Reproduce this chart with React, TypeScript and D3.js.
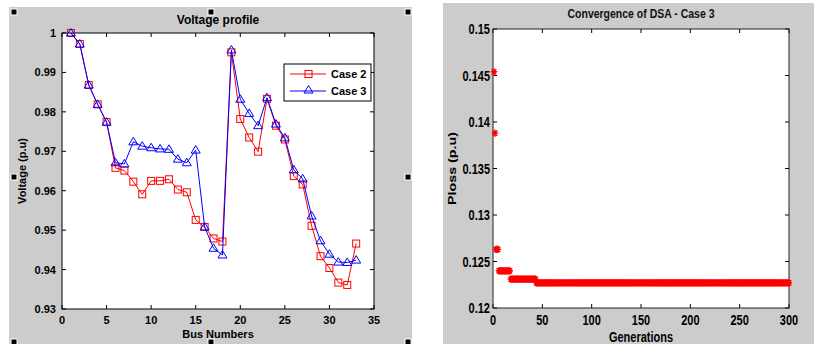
import React from 'react';
import * as d3 from 'd3';

// left chart: voltage profile
const busNumbers = d3.range(1, 34);
const voltCase2 = [
  1.0, 0.9972, 0.9868, 0.9819, 0.9774, 0.9658, 0.9651, 0.9623, 0.9591, 0.9625,
  0.9625, 0.9629, 0.9603, 0.9596, 0.9526, 0.9508, 0.9479, 0.9471, 0.9951, 0.9782,
  0.9735, 0.9699, 0.9833, 0.9765, 0.973, 0.9637, 0.9616, 0.9511, 0.9434, 0.9404,
  0.9367, 0.9361, 0.9466,
];
const voltCase3 = [
  1.0, 0.9972, 0.9868, 0.9819, 0.9774, 0.9671, 0.9668, 0.9724, 0.9713, 0.9709,
  0.9706, 0.9705, 0.968, 0.9671, 0.9703, 0.9508, 0.9454, 0.9437, 0.9957, 0.9832,
  0.9796, 0.9765, 0.9836, 0.9769, 0.9734, 0.9653, 0.963, 0.9536, 0.9473, 0.9439,
  0.9419, 0.9418, 0.9424,
];
const busTicks = [0, 5, 10, 15, 20, 25, 30, 35];
const voltTicks = [0.93, 0.94, 0.95, 0.96, 0.97, 0.98, 0.99, 1];

// right chart: convergence (best loss per generation, stored as plateaus)
const stepStart = [1, 2, 3, 6, 18, 44];
const stepLoss = [0.1454, 0.1388, 0.1263, 0.124, 0.1231, 0.1227];
const lastGen = 300;
const genTicks = [0, 50, 100, 150, 200, 250, 300];
const lossTicks = [0.12, 0.125, 0.13, 0.135, 0.14, 0.145, 0.15];

const FONT = 'Liberation Sans, Arial, sans-serif';
const GRAY = '#cccccc';

const lossData: { g: number; v: number }[] = [];
stepStart.forEach((s, i) => {
  const end = i < stepStart.length - 1 ? stepStart[i + 1] - 1 : lastGen;
  for (let g = s; g <= end; g++) lossData.push({ g, v: stepLoss[i] });
});

function Handle({ x, y }: { x: number; y: number }) {
  return <rect x={x} y={y} width={6} height={6} fill="#000" stroke="#fff" strokeWidth={1} />;
}

function VoltagePanel() {
  const L = 62, R = 374, T = 33, B = 309;
  const x = d3.scaleLinear().domain([0, 35]).range([L, R]);
  const y = d3.scaleLinear().domain([0.93, 1]).range([B, T]);
  const line = d3.line<number>().x((_, i) => x(busNumbers[i])).y(d => y(d));
  const tri = (cx: number, cy: number) =>
    `M${cx},${cy - 4.5}L${cx + 4.5},${cy + 3}L${cx - 4.5},${cy + 3}Z`;

  return (
    <g>
      <rect x={9} y={7} width={403} height={337} fill={GRAY} />
      <rect x={L} y={T} width={R - L} height={B - T} fill="#fff" />
      {busTicks.map(t => (
        <g key={'bx' + t}>
          <line x1={x(t)} x2={x(t)} y1={B} y2={B - 4} stroke="#000" />
          <line x1={x(t)} x2={x(t)} y1={T} y2={T + 4} stroke="#000" />
          <text x={x(t)} y={324} textAnchor="middle" fontSize={11} fontWeight="bold" fontFamily={FONT}>
            {t}
          </text>
        </g>
      ))}
      {voltTicks.map(t => (
        <g key={'vy' + t}>
          <line x1={L} x2={L + 4} y1={y(t)} y2={y(t)} stroke="#000" />
          <line x1={R} x2={R - 4} y1={y(t)} y2={y(t)} stroke="#000" />
          <text x={56} y={y(t) + 4} textAnchor="end" fontSize={11} fontWeight="bold" fontFamily={FONT}>
            {String(+t.toFixed(2))}
          </text>
        </g>
      ))}
      <rect x={L} y={T} width={R - L} height={B - T} fill="none" stroke="#000" />

      <path d={line(voltCase2) || ''} fill="none" stroke="#ff0000" strokeWidth={1} />
      {voltCase2.map((v, i) => (
        <rect key={'s' + i} x={x(busNumbers[i]) - 3.5} y={y(v) - 3.5} width={7} height={7}
          fill="none" stroke="#ff0000" strokeWidth={1} />
      ))}
      <path d={line(voltCase3) || ''} fill="none" stroke="#0000ff" strokeWidth={1} />
      {voltCase3.map((v, i) => (
        <path key={'t' + i} d={tri(x(busNumbers[i]), y(v))} fill="none" stroke="#0000ff" strokeWidth={1} />
      ))}

      <g>
        <rect x={284} y={64} width={87} height={37} fill="#fff" stroke="#000" />
        <line x1={290} x2={326} y1={74} y2={74} stroke="#ff0000" />
        <rect x={305} y={70.5} width={7} height={7} fill="none" stroke="#ff0000" />
        <text x={331} y={78} fontSize={11} fontWeight="bold" fontFamily={FONT}>Case 2</text>
        <line x1={290} x2={326} y1={91} y2={91} stroke="#0000ff" />
        <path d={tri(308.5, 90)} fill="none" stroke="#0000ff" />
        <text x={331} y={95} fontSize={11} fontWeight="bold" fontFamily={FONT}>Case 3</text>
      </g>

      <text x={(L + R) / 2} y={24} textAnchor="middle" fontSize={12} fontWeight="bold" fontFamily={FONT}>
        Voltage profile
      </text>
      <text x={(L + R) / 2} y={338} textAnchor="middle" fontSize={11} fontWeight="bold" fontFamily={FONT}>
        Bus Numbers
      </text>
      <text transform={`translate(26,${(T + B) / 2}) rotate(-90)`} textAnchor="middle" fontSize={11}
        fontWeight="bold" fontFamily={FONT}>
        Voltage (p.u)
      </text>

      <Handle x={11} y={9} />
      <Handle x={208} y={9} />
      <Handle x={405} y={9} />
      <Handle x={11} y={174} />
      <Handle x={405} y={174} />
      <Handle x={11} y={339} />
      <Handle x={208} y={339} />
      <Handle x={405} y={339} />
    </g>
  );
}

function ConvergencePanel() {
  const L = 493, R = 789, T = 29, B = 308;
  const x = d3.scaleLinear().domain([0, 300]).range([L, R]);
  const y = d3.scaleLinear().domain([0.12, 0.15]).range([B, T]);
  const star = (cx: number, cy: number) =>
    `M${cx - 3.2},${cy}H${cx + 3.2}M${cx},${cy - 3.6}V${cy + 3.6}` +
    `M${cx - 2.3},${cy - 2.7}L${cx + 2.3},${cy + 2.7}M${cx - 2.3},${cy + 2.7}L${cx + 2.3},${cy - 2.7}`;
  const stretch = 'scale(1,1.3)';

  return (
    <g>
      <rect x={443} y={3} width={371} height={341} fill={GRAY} />
      <rect x={L} y={T} width={R - L} height={B - T} fill="#fff" />
      {genTicks.map(t => (
        <g key={'gx' + t}>
          <line x1={x(t)} x2={x(t)} y1={B} y2={B - 4} stroke="#000" />
          <line x1={x(t)} x2={x(t)} y1={T} y2={T + 4} stroke="#000" />
          <text transform={`translate(${x(t)},325) ${stretch}`} textAnchor="middle" fontSize={11}
            fontWeight="bold" fontFamily={FONT}>
            {t}
          </text>
        </g>
      ))}
      {lossTicks.map(t => (
        <g key={'ly' + t}>
          <line x1={L} x2={L + 4} y1={y(t)} y2={y(t)} stroke="#000" />
          <line x1={R} x2={R - 4} y1={y(t)} y2={y(t)} stroke="#000" />
          <text transform={`translate(490,${y(t) + 5}) ${stretch}`} textAnchor="end" fontSize={11}
            fontWeight="bold" fontFamily={FONT}>
            {String(+t.toFixed(3))}
          </text>
        </g>
      ))}
      <rect x={L} y={T} width={R - L} height={B - T} fill="none" stroke="#222" />

      {lossData.map(d => (
        <path key={'p' + d.g} d={star(x(d.g), y(d.v))} stroke="#ff0000" strokeWidth={1.4} fill="none" />
      ))}

      <text transform={`translate(${(L + R) / 2},18) ${stretch}`} textAnchor="middle" fontSize={10.5}
        fontWeight={600} fill="#111" fontFamily={FONT}>
        Convergence of DSA - Case 3
      </text>
      <text transform={`translate(${(L + R) / 2},342) ${stretch}`} textAnchor="middle" fontSize={11}
        fontWeight="bold" fontFamily={FONT}>
        Generations
      </text>
      <text transform={`translate(456,${(T + B) / 2}) ${stretch} rotate(-90)`} textAnchor="middle"
        fontSize={11} fontWeight="bold" fontFamily={FONT}>
        Ploss (p.u)
      </text>
    </g>
  );
}

export default function App() {
  return (
    <div style={{ position: 'absolute', left: 0, top: 0 }}>
      <svg width={814} height={344} style={{ display: 'block', background: '#fff' }}>
        <VoltagePanel />
        <ConvergencePanel />
      </svg>
    </div>
  );
}
